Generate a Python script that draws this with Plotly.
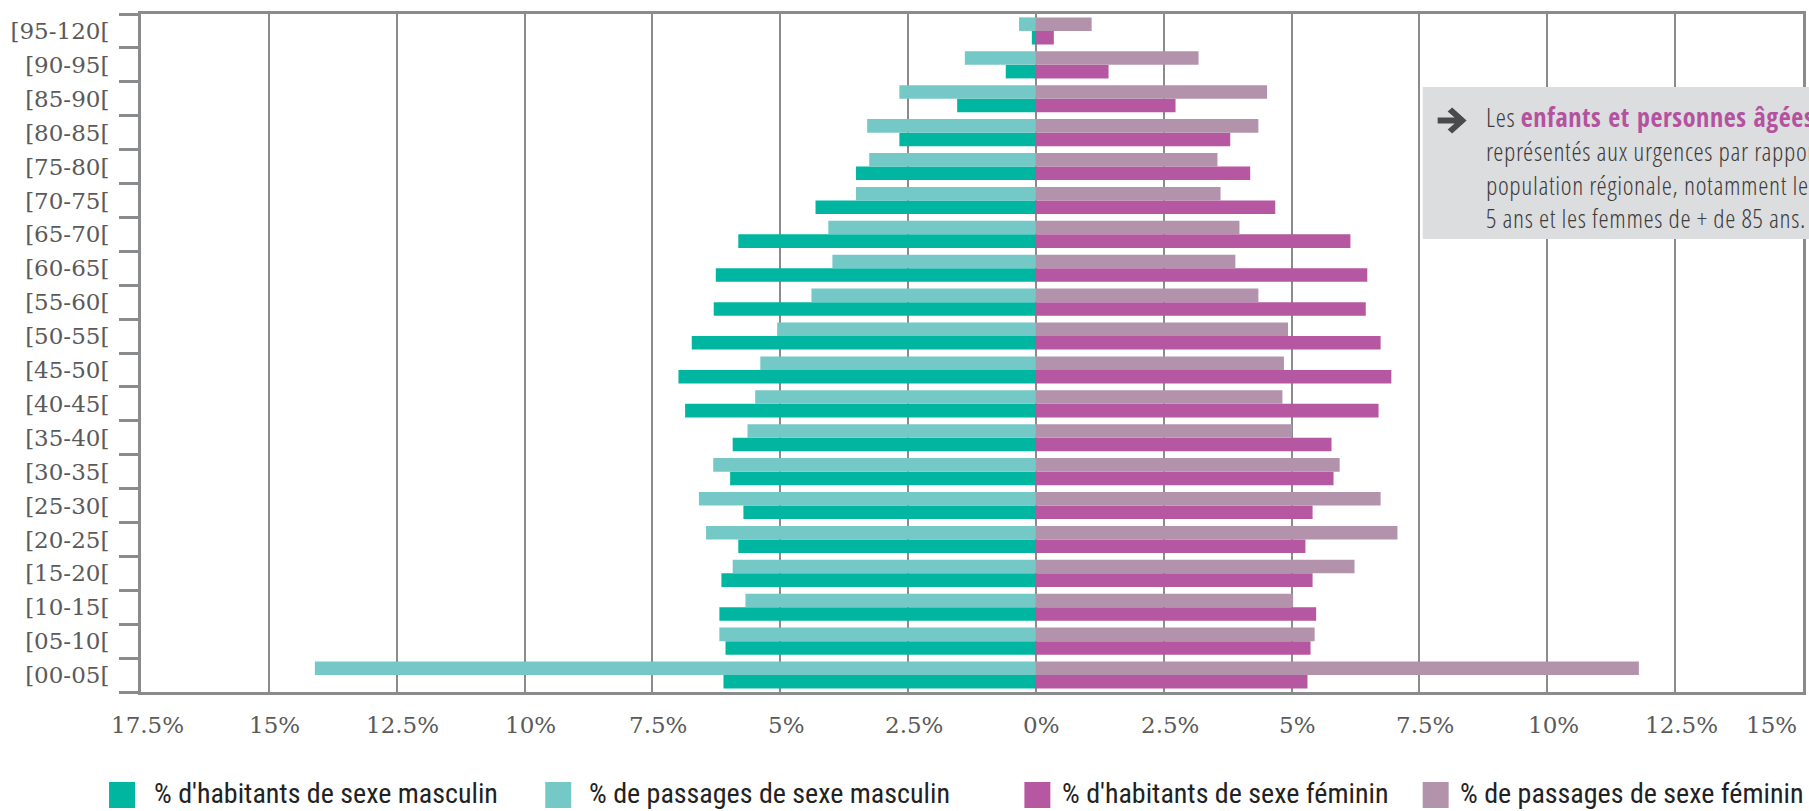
import plotly.graph_objects as go

# Age groups, from youngest (bottom) to oldest (top)
age_groups = ["[00-05[", "[05-10[", "[10-15[", "[15-20[", "[20-25[", "[25-30[",
              "[30-35[", "[35-40[", "[40-45[", "[45-50[", "[50-55[", "[55-60[",
              "[60-65[", "[65-70[", "[70-75[", "[75-80[", "[80-85[", "[85-90[",
              "[90-95[", "[95-120["]

# Shares in % per age group
male_residents = [6.11, 6.07, 6.19, 6.15, 5.82, 5.72, 5.98, 5.93, 6.86, 6.99,
                  6.73, 6.30, 6.26, 5.82, 4.31, 3.52, 2.67, 1.54, 0.59, 0.08]
male_visits = [14.10, 6.19, 5.68, 5.93, 6.45, 6.59, 6.31, 5.64, 5.49, 5.39,
               5.06, 4.39, 3.98, 4.06, 3.52, 3.26, 3.30, 2.67, 1.39, 0.33]
female_residents = [5.31, 5.37, 5.48, 5.41, 5.27, 5.41, 5.82, 5.78, 6.70, 6.95,
                    6.74, 6.45, 6.48, 6.15, 4.68, 4.19, 3.80, 2.73, 1.42, 0.35]
female_visits = [11.79, 5.45, 5.03, 6.23, 7.07, 6.74, 5.94, 5.01, 4.82, 4.85,
                 4.93, 4.35, 3.90, 3.98, 3.61, 3.55, 4.35, 4.52, 3.18, 1.09]

series_names = ["% d'habitants de sexe masculin", "% de passages de sexe masculin",
                "% d'habitants de sexe féminin", "% de passages de sexe féminin"]

x_ticks = [-17.5, -15, -12.5, -10, -7.5, -5, -2.5, 0, 2.5, 5, 7.5, 10, 12.5, 15]
x_tick_text = ["17.5%", "15%", "12.5%", "10%", "7.5%", "5%", "2.5%", "0%",
               "2.5%", "5%", "7.5%", "10%", "12.5%", "15%"]

C_MALE_RES = "#00b6a0"
C_MALE_VIS = "#74c8c5"
C_FEM_RES = "#b657a1"
C_FEM_VIS = "#b392ab"
GRID = "#8a8b8d"

W, H = 1809, 811
ML, MR, MT, MB = 141, 3, 14, 119
PW, PH = W - ML - MR, H - MT - MB


def px_x(px):
    return (px - ML) / PW


def px_y(py):
    return (H - MB - py) / PH


def narrow_text(s):
    return "<span style='font-stretch:condensed'>" + s + "</span>"


fig = go.Figure()

# residents sit just below each category centre, visits just above
fig.add_trace(go.Bar(y=age_groups, x=[-v for v in male_residents], orientation="h",
                     width=0.4, offset=-0.4, marker=dict(color=C_MALE_RES, line_width=0),
                     name=series_names[0], showlegend=False))
fig.add_trace(go.Bar(y=age_groups, x=[-v for v in male_visits], orientation="h",
                     width=0.4, offset=0.0, marker=dict(color=C_MALE_VIS, line_width=0),
                     name=series_names[1], showlegend=False))
fig.add_trace(go.Bar(y=age_groups, x=female_residents, orientation="h",
                     width=0.4, offset=-0.4, marker=dict(color=C_FEM_RES, line_width=0),
                     name=series_names[2], showlegend=False))
fig.add_trace(go.Bar(y=age_groups, x=female_visits, orientation="h",
                     width=0.4, offset=0.0, marker=dict(color=C_FEM_VIS, line_width=0),
                     name=series_names[3], showlegend=False))

serif = "DejaVu Serif, Liberation Serif, serif"
light_narrow = "Open Sans Condensed Light, Open Sans Condensed, Open Sans, sans-serif"
key_font = "Roboto Condensed, Roboto, sans-serif"

fig.update_layout(
    width=W, height=H,
    margin=dict(l=ML, r=MR, t=MT, b=MB),
    paper_bgcolor="white", plot_bgcolor="white",
    barmode="overlay",
    showlegend=False,
    xaxis=dict(range=[-17.5, 15], tickvals=x_ticks, showticklabels=False,
               showgrid=True, gridcolor=GRID, gridwidth=2, zeroline=False,
               showline=True, linecolor=GRID, linewidth=3, mirror=True, ticks=""),
    yaxis=dict(type="category", categoryorder="array", categoryarray=age_groups,
               showgrid=False, showline=True, linecolor=GRID, linewidth=3, mirror=True,
               ticks="outside", tickson="boundaries", ticklen=19, tickwidth=3,
               tickcolor=GRID, ticklabelstandoff=24,
               tickfont=dict(family=serif, size=23, color="#5a5a5a")),
)

annotations = []
# percentage labels under the x axis
for v, t in zip(x_ticks, x_tick_text):
    last = v == x_ticks[-1]
    annotations.append(dict(x=v, xref="x", y=0, yref="paper", yshift=-33,
                            text=t, showarrow=False,
                            xanchor="right" if last else "center",
                            xshift=-4 if last else 6, yanchor="middle",
                            font=dict(family=serif, size=23, color="#5a5a5a")))

# key placed along the bottom
legend_items = [(109, 152, C_MALE_RES), (546, 588, C_MALE_VIS),
                (1026, 1062, C_FEM_RES), (1425, 1460, C_FEM_VIS)]
shapes = []
for (sx, tx, col), name in zip(legend_items, series_names):
    shapes.append(dict(type="rect", xref="paper", yref="paper",
                       x0=px_x(sx), x1=px_x(sx + 26), y0=px_y(808), y1=px_y(782),
                       fillcolor=col, line_width=0))
    annotations.append(dict(x=px_x(tx), y=px_y(793), xref="paper", yref="paper",
                            text=narrow_text(name), showarrow=False,
                            xanchor="left", yanchor="middle",
                            font=dict(family=key_font, size=28, color="#222222")))

# comment box with its arrow icon
shapes.append(dict(type="rect", xref="paper", yref="paper", layer="above",
                   x0=px_x(1425), x1=px_x(1900), y0=px_y(239), y1=px_y(87),
                   fillcolor="#dcdddf", line_width=0))
arrow_pts = [(1440, 117.5), (1457, 117.5), (1450, 111.5), (1454.5, 107.5),
             (1469, 120.5), (1454.5, 133.5), (1450, 129.5), (1457, 123.5), (1440, 123.5)]
arrow_path = "M " + " L ".join(f"{px_x(a):.5f},{px_y(b):.5f}" for a, b in arrow_pts) + " Z"
shapes.append(dict(type="path", xref="paper", yref="paper", layer="above",
                   path=arrow_path, fillcolor="#4a4a4a", line_width=0))

box_lines = [
    "Les <span style='color:#b4529f;font-family:Open Sans Condensed'><b>enfants et "
    "personnes âgées</b></span> sont sur-",
    "représentés aux urgences par rapport à la",
    "population régionale, notamment les moins de",
    "5 ans et les femmes de + de 85 ans.",
]
box_text = "<span style='letter-spacing:0.6px'>" + "<br>".join(box_lines) + "</span>"
annotations.append(dict(x=px_x(1486), y=px_y(167), xref="paper", yref="paper",
                        text=box_text, showarrow=False,
                        xanchor="left", yanchor="middle", align="left",
                        font=dict(family=light_narrow, size=26, weight=300,
                                  color="#3c3c3c")))

fig.update_layout(annotations=annotations, shapes=shapes)

fig.write_html("out.html")
